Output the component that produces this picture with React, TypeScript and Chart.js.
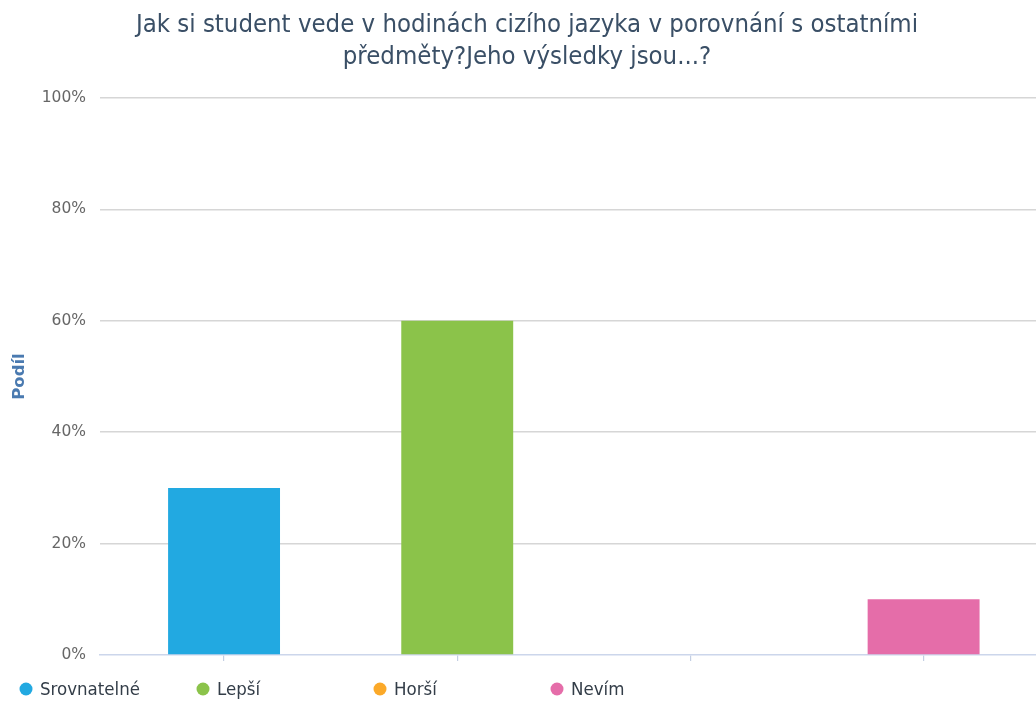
import React, { useEffect, useRef } from "react";
import { Chart, registerables } from "chart.js";

Chart.register(...registerables);

const titleLines = [
  "Jak si student vede v hodinách cizího jazyka v porovnání s ostatními",
  "předměty?Jeho výsledky jsou...?",
];
const categories = ["Srovnatelné", "Lepší", "Horší", "Nevím"];
const values = [30, 60, 0, 10];
const colors = ["#22a9e1", "#8bc34a", "#fba929", "#e56da9"];
const yTickValues = [0, 20, 40, 60, 80, 100];
const yAxisTitle = "Podíl";

const titlePlugin = {
  id: "customTitle",
  afterDraw(chart: any) {
    const ctx = chart.ctx;
    ctx.save();
    ctx.font = '25.5px "DejaVu Sans Condensed"';
    ctx.textBaseline = "middle";
    ctx.textAlign = "center";
    ctx.fillStyle = "#3a4f66";
    titleLines.forEach((t, i) => {
      ctx.fillText(t, 527, 25 + i * 32);
    });
    ctx.restore();
  },
};

const legendPlugin = {
  id: "customLegend",
  afterDraw(chart: any) {
    const ctx = chart.ctx;
    ctx.save();
    ctx.font = '18.5px "DejaVu Sans Condensed"';
    ctx.textBaseline = "middle";
    ctx.textAlign = "left";
    categories.forEach((c, i) => {
      const cx = 26 + i * 177;
      const cy = 689;
      ctx.beginPath();
      ctx.arc(cx, cy, 6.5, 0, Math.PI * 2);
      ctx.fillStyle = colors[i];
      ctx.fill();
      ctx.fillStyle = "#333d48";
      ctx.fillText(c, cx + 14, cy + 1);
    });
    ctx.restore();
  },
};

export default function App() {
  const ref = useRef<HTMLCanvasElement | null>(null);
  useEffect(() => {
    document.body.style.margin = "0";
    if (!ref.current) return;
    const chart = new Chart(ref.current, {
      type: "bar",
      data: {
        labels: categories,
        datasets: [
          {
            label: yAxisTitle,
            data: values.map((v, i) => ({ x: i, y: v })),
            backgroundColor: colors,
            borderWidth: 0,
            barPercentage: 0.48,
            categoryPercentage: 1,
          },
        ],
      },
      options: {
        animation: false,
        responsive: true,
        maintainAspectRatio: false,
        layout: { padding: { left: 0, right: 0, top: 98, bottom: 40 } },
        plugins: {
          legend: { display: false },
          tooltip: { enabled: false },
          title: { display: false },
        },
        scales: {
          x: {
            type: "linear",
            offset: false,
            min: -0.532,
            max: 3.482,
            ticks: { display: false, stepSize: 1, includeBounds: false },
            grid: {
              display: true,
              offset: false,
              drawOnChartArea: false,
              drawTicks: true,
              tickLength: 6,
              color: "#c4cfe3",
              lineWidth: 1.2,
            },
            border: { display: true, color: "#ccd6eb", width: 1.5 },
          },
          y: {
            min: 0,
            max: 100,
            afterBuildTicks: (scale: any) => {
              scale.ticks = yTickValues.map((v) => ({ value: v }));
            },
            afterFit: (scale: any) => {
              scale.width = 100;
            },
            ticks: {
              callback: (v: any) => v + "%",
              color: "#666666",
              font: { family: '"DejaVu Sans"', size: 15.5 },
              padding: 14,
            },
            grid: {
              drawTicks: false,
              color: (c: any) => (c.tick && c.tick.value === 0 ? "rgba(0,0,0,0)" : "#d6d6d6"),
              lineWidth: 1.5,
            },
            border: { display: false },
            title: {
              display: true,
              text: yAxisTitle,
              color: "#4a7ab0",
              font: { family: '"DejaVu Sans"', size: 16.5, weight: "bold" },
              padding: { top: 10, bottom: 0 },
            },
          },
        },
      },
      plugins: [titlePlugin, legendPlugin],
    });
    return () => chart.destroy();
  }, []);
  return (
    <div style={{ width: 1036, height: 701, position: "relative", overflow: "hidden" }}>
      <canvas ref={ref} />
    </div>
  );
}
